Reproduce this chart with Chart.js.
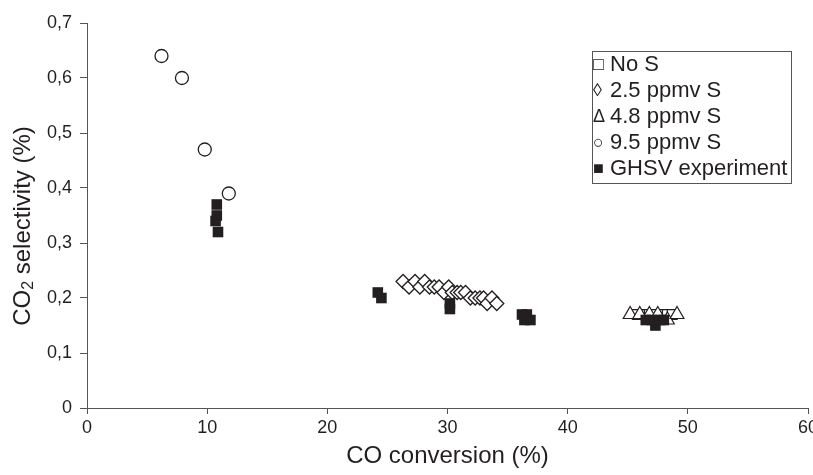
<!DOCTYPE html>
<html>
<head>
<meta charset="utf-8">
<script src="https://cdn.jsdelivr.net/npm/chart.js@4/dist/chart.umd.min.js"></script>
<style>
  html, body { margin: 0; padding: 0; background: #fff; overflow: hidden; }
  #wrap { width: 813px; height: 475px; position: relative; }
  #sel_chart { display: block; }
</style>
</head>
<body>
<div id="wrap"><canvas id="sel_chart"></canvas></div>
<script>
// CO conversion (%) / CO2 selectivity (%) per series
const noS_x = [45.8, 46.3, 46.8, 47.3, 47.8, 48.3, 48.7];
const noS_y = [0.17, 0.17, 0.17, 0.17, 0.17, 0.17, 0.17];

const s25_x = [26.3, 26.8, 27.3, 27.7, 28.1, 28.5, 28.9, 29.3, 29.7, 30.1, 30.4, 30.8, 31.1, 31.5, 31.9, 32.3, 32.7, 33.0, 33.3, 33.7, 34.1];
const s25_y = [0.23, 0.22, 0.23, 0.22, 0.23, 0.22, 0.22, 0.22, 0.21, 0.22, 0.21, 0.21, 0.21, 0.21, 0.20, 0.20, 0.20, 0.20, 0.19, 0.20, 0.19];

const s48_x = [45.2, 46.0, 46.8, 47.5, 48.3, 49.1];
const s48_y = [0.17, 0.17, 0.17, 0.17, 0.16, 0.17];

const s95_x = [6.2, 7.9, 9.8, 11.8];
const s95_y = [0.64, 0.60, 0.47, 0.39];

const ghsv_x = [10.8, 10.8, 10.7, 10.9, 24.2, 24.5, 30.2, 30.2, 36.2, 36.6, 36.4, 36.9, 46.5, 47.0, 47.3, 47.7, 48.0];
const ghsv_y = [0.37, 0.35, 0.34, 0.32, 0.21, 0.20, 0.19, 0.18, 0.17, 0.17, 0.16, 0.16, 0.16, 0.16, 0.15, 0.16, 0.16];

const x_ticks = [0, 10, 20, 30, 40, 50, 60];
const y_ticks = [0, 0.1, 0.2, 0.3, 0.4, 0.5, 0.6, 0.7];

const legend_marks = ["\u25A1", "\u25CA", "\u0394", "\u25CB", "\u25A0"];
const legend_names = ["No S", "2.5 ppmv S", "4.8 ppmv S", "9.5 ppmv S", "GHSV experiment"];

const INK = "#231f20";
const FONT = "'Liberation Sans', Arial, sans-serif";

function pts(xs, ys) {
  return xs.map((x, i) => ({ x: x, y: ys[i] }));
}

// boxed legend drawn inside the plot, top right
const boxLegend = {
  id: "boxLegend",
  afterDraw(chart) {
    const c = chart.ctx;
    c.save();
    c.strokeStyle = "#555";
    c.lineWidth = 1;
    c.strokeRect(592.5, 51.5, 199, 132);
    c.fillStyle = INK;
    c.textBaseline = "middle";
    c.textAlign = "left";
    legend_names.forEach((t, i) => {
      const y = 65 + i * 26;
      c.font = "18px " + FONT;
      c.fillText(legend_marks[i], 593, y);
      c.font = "22px " + FONT;
      c.fillText(t, 610, y);
    });
    c.restore();
  }
};

// y axis title with a real subscript in CO2
const yTitle = {
  id: "yTitle",
  afterDraw(chart) {
    const c = chart.ctx;
    const big = "24px " + FONT, small = "16px " + FONT;
    const parts = [["CO", big, 0], ["2", small, 6], [" selectivity (%)", big, 0]];
    c.save();
    let total = 0;
    parts.forEach(p => { c.font = p[1]; total += c.measureText(p[0]).width; });
    c.translate(23, 226);
    c.rotate(-Math.PI / 2);
    c.fillStyle = INK;
    c.textBaseline = "middle";
    c.textAlign = "left";
    let x = -total / 2;
    parts.forEach(p => {
      c.font = p[1];
      c.fillText(p[0], x, p[2]);
      x += c.measureText(p[0]).width;
    });
    c.restore();
  }
};

const ctx = document.getElementById("sel_chart");

new Chart(ctx, {
  type: "scatter",
  data: {
    datasets: [
      {
        label: "No S",
        data: pts(noS_x, noS_y),
        pointStyle: "rect",
        pointRadius: 7,
        backgroundColor: "#fff",
        borderColor: INK,
        borderWidth: 1.2,
        order: 4,
      },
      {
        label: "2.5 ppmv S",
        data: pts(s25_x, s25_y),
        pointStyle: "rectRot",
        pointRadius: 7,
        backgroundColor: "#fff",
        borderColor: INK,
        borderWidth: 1.3,
        order: 3,
      },
      {
        label: "4.8 ppmv S",
        data: pts(s48_x, s48_y),
        pointStyle: "triangle",
        pointRadius: 8,
        backgroundColor: "#fff",
        borderColor: INK,
        borderWidth: 1.2,
        order: 2,
      },
      {
        label: "9.5 ppmv S",
        data: pts(s95_x, s95_y),
        pointStyle: "circle",
        pointRadius: 6.5,
        backgroundColor: "#fff",
        borderColor: INK,
        borderWidth: 1.3,
        order: 1,
      },
      {
        label: "GHSV experiment",
        data: pts(ghsv_x, ghsv_y),
        pointStyle: "rect",
        pointRadius: 7.5,
        backgroundColor: INK,
        borderColor: INK,
        borderWidth: 0,
        order: 0,
      },
    ],
  },
  options: {
    responsive: true,
    maintainAspectRatio: false,
    animation: false,
    events: [],
    layout: { autoPadding: false, padding: { top: 23, right: 5, left: 0, bottom: 0 } },
    plugins: {
      legend: { display: false },
      tooltip: { enabled: false },
    },
    scales: {
      x: {
        type: "linear",
        min: 0,
        max: 60,
        afterBuildTicks: (s) => { s.ticks = x_ticks.map(v => ({ value: v })); },
        afterFit: (s) => {
          s.height = 67;
          // let the last tick label run past the edge
          s.paddingRight = 0;
          s.paddingLeft = 0;
        },
        ticks: { color: INK, font: { family: FONT, size: 18 }, padding: 3 },
        grid: { display: true, drawOnChartArea: false, drawTicks: true, tickLength: 6, color: "#555" },
        border: { color: "#555", width: 1 },
        title: { display: true, text: "CO conversion (%)", color: INK, font: { family: FONT, size: 24 }, padding: { top: 1 } },
      },
      y: {
        type: "linear",
        min: 0,
        max: 0.7,
        afterBuildTicks: (s) => { s.ticks = y_ticks.map(v => ({ value: v })); },
        afterFit: (s) => { s.width = 87; },
        ticks: {
          color: INK,
          font: { family: FONT, size: 18 },
          padding: 8,
          callback: (v) => (v === 0 ? "0" : v.toFixed(1).replace(".", ",")),
        },
        grid: { display: true, drawOnChartArea: false, drawTicks: true, tickLength: 7, color: "#555" },
        border: { color: "#555", width: 1 },
        title: { display: false },
      },
    },
  },
  plugins: [boxLegend, yTitle],
});
</script>
</body>
</html>
